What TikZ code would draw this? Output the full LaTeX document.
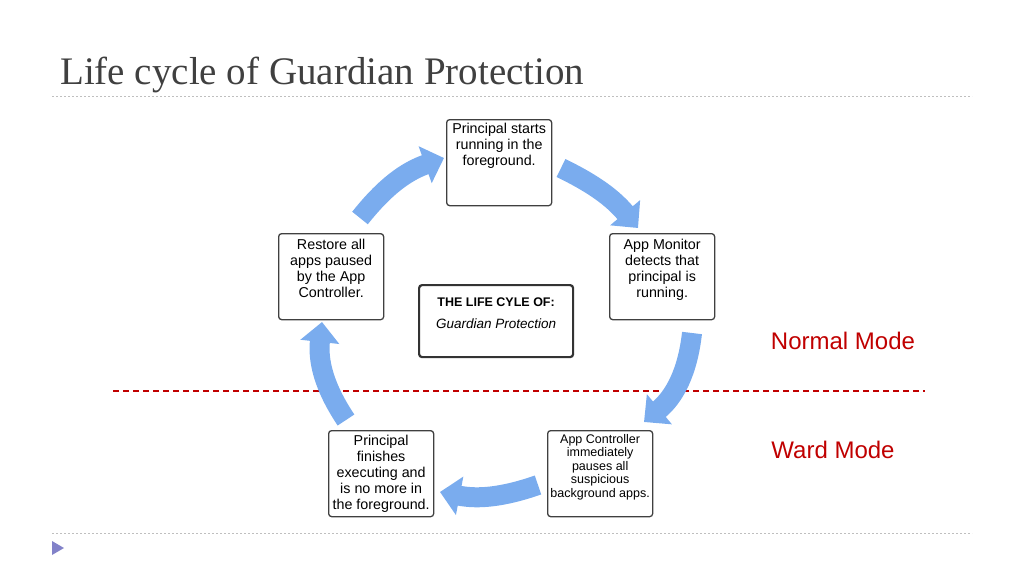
\documentclass[tikz,border=0pt]{standalone}
\usepackage{fontspec}
\setsansfont{Liberation Sans}
\setmainfont{Liberation Serif}
\usetikzlibrary{arrows.meta}
\definecolor{arr}{RGB}{122,172,238}
\definecolor{redm}{RGB}{192,0,0}
\definecolor{grayt}{RGB}{64,64,64}
\tikzset{
 stepbox/.style={draw=black!75,line width=1.3pt,rounded corners=3pt,minimum width=105pt,minimum height=86pt,anchor=north west,inner sep=0pt},
 steptxt/.style={anchor=north,align=center,font=\sffamily\fontsize{14.3}{16}\selectfont,inner sep=0pt},
 flow/.style={arr,line width=20pt,-{Triangle[width=38pt,length=20pt]}},
 sep/.style={gray!50,dash pattern=on 2pt off 2pt,line width=0.6pt}
}
\begin{document}
\begin{tikzpicture}[x=1pt,y=-1pt]
\useasboundingbox (0,0) rectangle (1024,576);
\node[anchor=base west,font=\fontsize{39}{44}\selectfont,text=grayt,inner sep=0pt] (title) at (60,84) {Life cycle of Guardian Protection};
\draw[sep] (52,96) -- (972,96);
\draw[sep] (52,533) -- (972,533);
\fill[gray!60!blue!70] (52,541) -- (64,548) -- (52,555) -- cycle;
\draw[draw=redm,dash pattern=on 6pt off 4pt,line width=1.2pt] (113,391) -- (925,391);
\node[text=redm,font=\sffamily\fontsize{24}{28}\selectfont] (nm) at (843,341) {Normal Mode};
\node[text=redm,font=\sffamily\fontsize{24}{28}\selectfont] (wm) at (833,450) {Ward Mode};
% boxes
\node[stepbox] (top) at (446,119) {};
\node[stepbox] (rt) at (609,233) {};
\node[stepbox] (lt) at (278,233) {};
\node[stepbox] (br) at (547,430) {};
\node[stepbox] (bl) at (328,430) {};
\node[steptxt] (ttop) at ([yshift=-4pt]top.north) {Principal starts\\running in the\\foreground.};
\node[steptxt] (trt) at ([yshift=-6pt]rt.north) {App Monitor\\detects that\\principal is\\running.};
\node[steptxt] (tlt) at ([yshift=-6pt]lt.north) {Restore all\\apps paused\\by the App\\Controller.};
\node[steptxt,font=\sffamily\fontsize{12.5}{13.5}\selectfont] (tbr) at ([yshift=-4pt]br.north) {App Controller\\immediately\\pauses all\\suspicious\\background apps.};
\node[steptxt] (tbl) at ([yshift=-5pt]bl.north) {Principal\\finishes\\executing and\\is no more in\\the foreground.};
\node[draw=black!80,line width=2.2pt,rounded corners=3pt,minimum width=154pt,minimum height=72pt,align=center,anchor=north west,inner sep=0pt] (ctr) at (418,284)
 {\sffamily\fontsize{12.5}{15}\selectfont\textbf{THE LIFE CYLE OF:}\\[10pt]\sffamily\itshape\fontsize{13.5}{15}\selectfont Guardian Protection\\[4pt]};
% arrows
\coordinate (a1) at (561,168); \coordinate (b1) at (638,228);
\coordinate (a2) at (692,333); \coordinate (b2) at (644,422);
\coordinate (a3) at (538,485); \coordinate (b3) at (440,492);
\coordinate (a4) at (346,420); \coordinate (b4) at (322,322);
\coordinate (a5) at (360,218); \coordinate (b5) at (444,158);
\draw[flow] (a1) to[bend left=12] (b1);
\draw[flow] (a2) to[bend left=22] (b2);
\draw[flow] (a3) to[bend left=15] (b3);
\draw[flow] (a4) to[bend left=20] (b4);
\draw[flow] (a5) to[bend left=16] (b5);
\end{tikzpicture}
\end{document}
